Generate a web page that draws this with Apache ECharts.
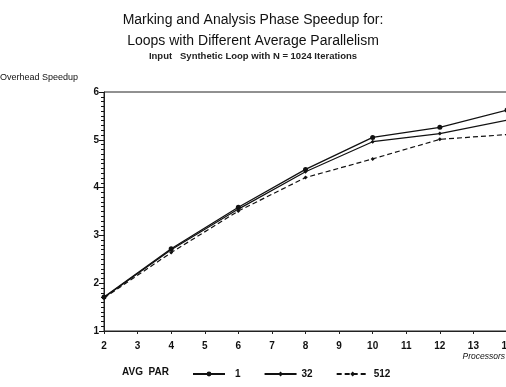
<!DOCTYPE html>
<html>
<head>
<meta charset="utf-8">
<script src="https://cdn.jsdelivr.net/npm/echarts@6/dist/echarts.min.js"></script>
<style>html,body{margin:0;padding:0;background:#fff;}#c{width:506px;height:387px;}</style>
</head>
<body>
<div id="c"></div>
<script>
const processors = [2, 4, 6, 8, 10, 12, 14];
const seriesNames = ['1', '32', '512'];
const par1   = [1.71, 2.72, 3.59, 4.38, 5.05, 5.26, 5.62];
const par32  = [1.70, 2.70, 3.55, 4.33, 4.96, 5.13, 5.41];
const par512 = [1.69, 2.64, 3.51, 4.21, 4.60, 5.01, 5.11];
const xTicks = [2, 3, 4, 5, 6, 7, 8, 9, 10, 11, 12, 13, 14];
const yTicks = [1, 2, 3, 4, 5, 6];

const FONT = 'Liberation Sans';
const chart = echarts.init(document.getElementById('c'));
function pairs(vals){ return processors.map((p,i)=>[p, vals[i]]); }

chart.setOption({
  animation: false,
  backgroundColor: '#fff',
  title: {
    text: 'Marking and Analysis Phase Speedup for:\nLoops with Different Average Parallelism',
    subtext: 'Input   Synthetic Loop with N = 1024 Iterations',
    left: 'center', top: 5, itemGap: -1,
    textStyle: { fontFamily: FONT, fontSize: 14, fontWeight: 'normal', color: '#111', lineHeight: 21 },
    subtextStyle: { fontFamily: FONT, fontSize: 9.5, fontWeight: 'bold', color: '#222' }
  },
  grid: { left: 104, right: -1, top: 92, bottom: 56, show: true, borderColor: '#222', borderWidth: 1, outerBoundsMode: 'none' },
  xAxis: {
    type: 'value', min: 2, max: 14, interval: 1,
    axisLine: { lineStyle: { color: '#222', width: 1 } },
    axisTick: { length: 3, lineStyle: { color: '#222' } },
    axisLabel: { fontFamily: FONT, fontSize: 10, fontWeight: 'bold', color: '#111', margin: 10,
      formatter: v => xTicks.includes(v) ? String(v) : '' },
    splitLine: { show: false }
  },
  yAxis: {
    type: 'value', min: 1, max: 6, interval: 1,
    axisLine: { show: true, lineStyle: { color: '#222', width: 1 } },
    axisTick: { show: true, length: 5, lineStyle: { color: '#111' } },
    minorTick: { show: true, splitNumber: 10, length: 3, lineStyle: { color: '#111', width: 1 } },
    axisLabel: { fontFamily: FONT, fontSize: 10, fontWeight: 'bold', color: '#111', margin: 5,
      formatter: v => yTicks.includes(v) ? String(v) : '' },
    splitLine: { show: false }
  },
  legend: {
    left: 187, top: 364, itemWidth: 32, itemHeight: 6, itemGap: 23,
    formatter: n => (n === '1' ? '{s|}' : '') + n,
    textStyle: { fontFamily: FONT, fontSize: 10, fontWeight: 'bold', color: '#111', rich: { s: { width: 5 } } },
    data: seriesNames
  },
  graphic: [
    { type: 'text', left: 0, top: 73, style: { text: 'Overhead Speedup', font: '9px "Liberation Sans"', fill: '#111' } },
    { type: 'text', right: 1, top: 352, style: { text: 'Processors', font: 'italic 8.5px "Liberation Sans"', fill: '#111' } },
    { type: 'text', left: 122, top: 367, style: { text: 'AVG  PAR', font: 'bold 10px "Liberation Sans"', fill: '#111' } }
  ],
  series: [
    { name: seriesNames[0], type: 'line', data: pairs(par1), symbol: 'circle', symbolSize: 5,
      lineStyle: { color: '#111', width: 1.3 }, itemStyle: { color: '#111' } },
    { name: seriesNames[1], type: 'line', data: pairs(par32), symbol: 'diamond', symbolSize: 4,
      lineStyle: { color: '#111', width: 1.2 }, itemStyle: { color: '#111' } },
    { name: seriesNames[2], type: 'line', data: pairs(par512), symbol: 'diamond', symbolSize: 4,
      lineStyle: { color: '#111', width: 1.2, type: [5, 3] }, itemStyle: { color: '#111' } }
  ]
});
</script>
</body>
</html>
